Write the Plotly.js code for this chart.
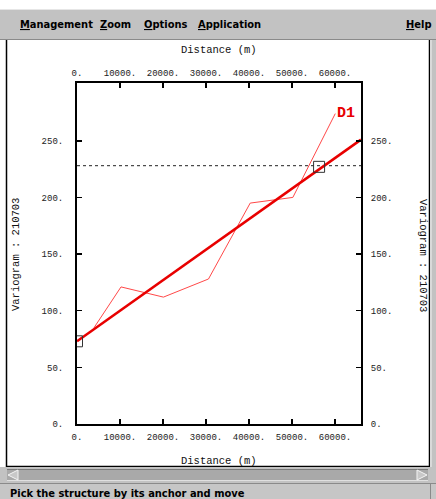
<!DOCTYPE html>
<html>
<head>
<meta charset="utf-8">
<script src="https://cdn.plot.ly/plotly-3.0.1.min.js"></script>
<style>
html,body{margin:0;padding:0;background:#fff;}
#chart{width:436px;height:499px;}
</style>
</head>
<body>
<div id="chart"></div>
<script>
// ---- data ----
const expDistance = [3960, 10240, 20100, 30580, 40280, 50200, 60070];
const expVariogram = [85, 121, 112, 128, 195, 200, 274];
const modelDistance = [0, 66050];
const modelVariogram = [73, 251];
const sillDistance = [0, 66050];
const sillVariogram = [228, 228];
const anchorDistance = [0, 56300];
const anchorVariogram = [73, 227];
const xTickVals = [0, 10000, 20000, 30000, 40000, 50000, 60000];
const xTickText = ['0.', '10000.', '20000.', '30000.', '40000.', '50000.', '60000.'];
const yTickVals = [0, 50, 100, 150, 200, 250];
const yTickText = ['0.', '50.', '100.', '150.', '200.', '250.'];
const xRange = [0, 66050];
const yRange = [0, 301];
const structureLabel = 'D1';
const axisTitleX = 'Distance (m)';
const axisTitleY = 'Variogram : 210703';
const menuItems = ['Management', 'Zoom', 'Options', 'Application'];
const helpItem = 'Help';
const statusText = 'Pick the structure by its anchor and move';

// ---- layout geometry (pixels) ----
const W = 436, H = 499;
const L = 77, R = 361, T = 83, B = 424;
const px = x => (x - L) / (R - L);
const py = y => (B - y) / (B - T);

const mono = 'Liberation Mono, DejaVu Sans Mono, monospace';
const uiFont = 'DejaVu Sans Condensed, Liberation Sans, sans-serif';

const traces = [
  {x: sillDistance, y: sillVariogram, mode: 'lines', line: {color: '#222', width: 1, dash: '3px,3px'}, hoverinfo: 'skip', showlegend: false},
  {x: expDistance, y: expVariogram, mode: 'lines', line: {color: '#ff4848', width: 1}, showlegend: false},
  {x: modelDistance, y: modelVariogram, mode: 'lines', line: {color: '#e80000', width: 2.6}, showlegend: false},
  {x: anchorDistance, y: anchorVariogram, mode: 'markers', marker: {symbol: 'square-open', size: 11, color: '#333', line: {width: 1}}, cliponaxis: true, showlegend: false},
  {x: modelDistance, y: modelVariogram, xaxis: 'x2', yaxis: 'y2', mode: 'lines', line: {width: 0}, opacity: 0, hoverinfo: 'skip', showlegend: false}
];

const axisCommon = {
  showgrid: false, zeroline: false, showline: true, linecolor: '#000', linewidth: 2,
  ticks: 'inside', ticklen: 5, tickwidth: 1.5, tickcolor: '#000',
  tickfont: {family: mono, size: 9, color: '#222'}
};

function rect(x0, y0, x1, y1, fill, line) {
  return {type: 'rect', xref: 'paper', yref: 'paper', x0: px(x0), x1: px(x1), y0: py(y0), y1: py(y1),
    fillcolor: fill, line: line || {width: 0}, layer: 'below'};
}
function hline(x0, x1, y, color, w) {
  return {type: 'line', xref: 'paper', yref: 'paper', x0: px(x0), x1: px(x1), y0: py(y), y1: py(y), line: {color: color, width: w}, layer: 'below'};
}
function vline(x, y0, y1, color, w) {
  return {type: 'line', xref: 'paper', yref: 'paper', x0: px(x), x1: px(x), y0: py(y0), y1: py(y1), line: {color: color, width: w}, layer: 'below'};
}

const shapes = [
  rect(0, 9, W, 40, '#c2c2c2'),
  hline(0, W, 9.5, '#e6e6e6', 1),
  hline(0, W, 39.5, '#8a8a8a', 1),
  rect(6, 40, 430, 467, '#ffffff'),
  vline(6.5, 40, 467, '#000', 1.5),
  vline(429.5, 40, 467, '#000', 1.5),
  hline(6, 430, 466.5, '#000', 1.5),
  rect(430, 40, W, 467, '#c2c2c2'),
  vline(431, 40, 467, '#f0f0f0', 1),
  rect(0, 467, W, 483, '#c2c2c2'),
  rect(7, 469, 428, 481, '#a9a9a9'),
  hline(7, 428, 469.5, '#7a7a7a', 1),
  hline(7, 428, 480.5, '#e0e0e0', 1),
  {type: 'path', xref: 'paper', yref: 'paper', layer: 'below',
   path: `M ${px(8)} ${py(475)} L ${px(18)} ${py(470)} L ${px(18)} ${py(480)} Z`,
   fillcolor: '#c8c8c8', line: {color: '#f4f4f4', width: 1}},
  {type: 'path', xref: 'paper', yref: 'paper', layer: 'below',
   path: `M ${px(427)} ${py(475)} L ${px(417)} ${py(470)} L ${px(417)} ${py(480)} Z`,
   fillcolor: '#c8c8c8', line: {color: '#f4f4f4', width: 1}},
  rect(0, 483, W, H, '#c6c6c6'),
  hline(0, W, 483.5, '#8a8a8a', 1),
  vline(430.5, 483, H, '#8a8a8a', 1)
];

const menuX = [18, 98, 142, 196];
const annotations = [];
const menuFont = {family: uiFont, size: 11, color: '#000', weight: 'bold'};
menuItems.forEach((m, i) => {
  annotations.push({xref: 'paper', yref: 'paper', x: px(menuX[i]), y: py(25), xanchor: 'left', yanchor: 'middle',
    text: '<span style="text-decoration:underline">' + m[0] + '</span>' + m.slice(1), showarrow: false,
    font: menuFont});
});
annotations.push({xref: 'paper', yref: 'paper', x: px(433), y: py(25), xanchor: 'right', yanchor: 'middle',
  text: '<span style="text-decoration:underline">' + helpItem[0] + '</span>' + helpItem.slice(1), showarrow: false,
  font: menuFont});
annotations.push({xref: 'paper', yref: 'paper', x: px(8), y: py(493), xanchor: 'left', yanchor: 'middle',
  text: statusText, showarrow: false, font: menuFont});
annotations.push({xref: 'paper', yref: 'paper', x: px(219), y: py(50), xanchor: 'center', yanchor: 'middle',
  text: axisTitleX, showarrow: false, font: {family: mono, size: 10.5, color: '#111'}});
annotations.push({xref: 'paper', yref: 'paper', x: px(219), y: py(461), xanchor: 'center', yanchor: 'middle',
  text: axisTitleX, showarrow: false, font: {family: mono, size: 10.5, color: '#111'}});
annotations.push({xref: 'paper', yref: 'paper', x: px(16), y: py(255), xanchor: 'center', yanchor: 'middle', textangle: -90,
  text: axisTitleY, showarrow: false, font: {family: mono, size: 10.5, color: '#111'}});
annotations.push({xref: 'paper', yref: 'paper', x: px(423), y: py(255), xanchor: 'center', yanchor: 'middle', textangle: 90,
  text: axisTitleY, showarrow: false, font: {family: mono, size: 10.5, color: '#111'}});
annotations.push({xref: 'x', yref: 'y', x: expDistance[expDistance.length - 1], y: expVariogram[expVariogram.length - 1],
  xanchor: 'left', yanchor: 'middle', xshift: 0, yshift: 0, text: '<b>' + structureLabel + '</b>', showarrow: false,
  font: {family: mono, size: 15, color: '#e80000'}});

const layout = {
  width: W, height: H,
  margin: {l: L, r: W - R, t: T, b: H - B, pad: 0},
  paper_bgcolor: '#ffffff', plot_bgcolor: '#ffffff',
  showlegend: false,
  xaxis: Object.assign({}, axisCommon, {range: xRange, tickvals: xTickVals, ticktext: xTickText, ticklabelstandoff: 3}),
  yaxis: Object.assign({}, axisCommon, {range: yRange, tickvals: yTickVals, ticktext: yTickText, ticklabelstandoff: 10}),
  xaxis2: Object.assign({}, axisCommon, {range: xRange, tickvals: xTickVals, ticktext: xTickText, overlaying: 'x', side: 'top', anchor: 'y', ticklabelstandoff: 1}),
  yaxis2: Object.assign({}, axisCommon, {range: yRange, tickvals: yTickVals, ticktext: yTickText, overlaying: 'y', side: 'right', anchor: 'x', ticklabelstandoff: 6}),
  shapes: shapes,
  annotations: annotations
};

Plotly.newPlot('chart', traces, layout, {staticPlot: true, displayModeBar: false});
</script>
</body>
</html>
